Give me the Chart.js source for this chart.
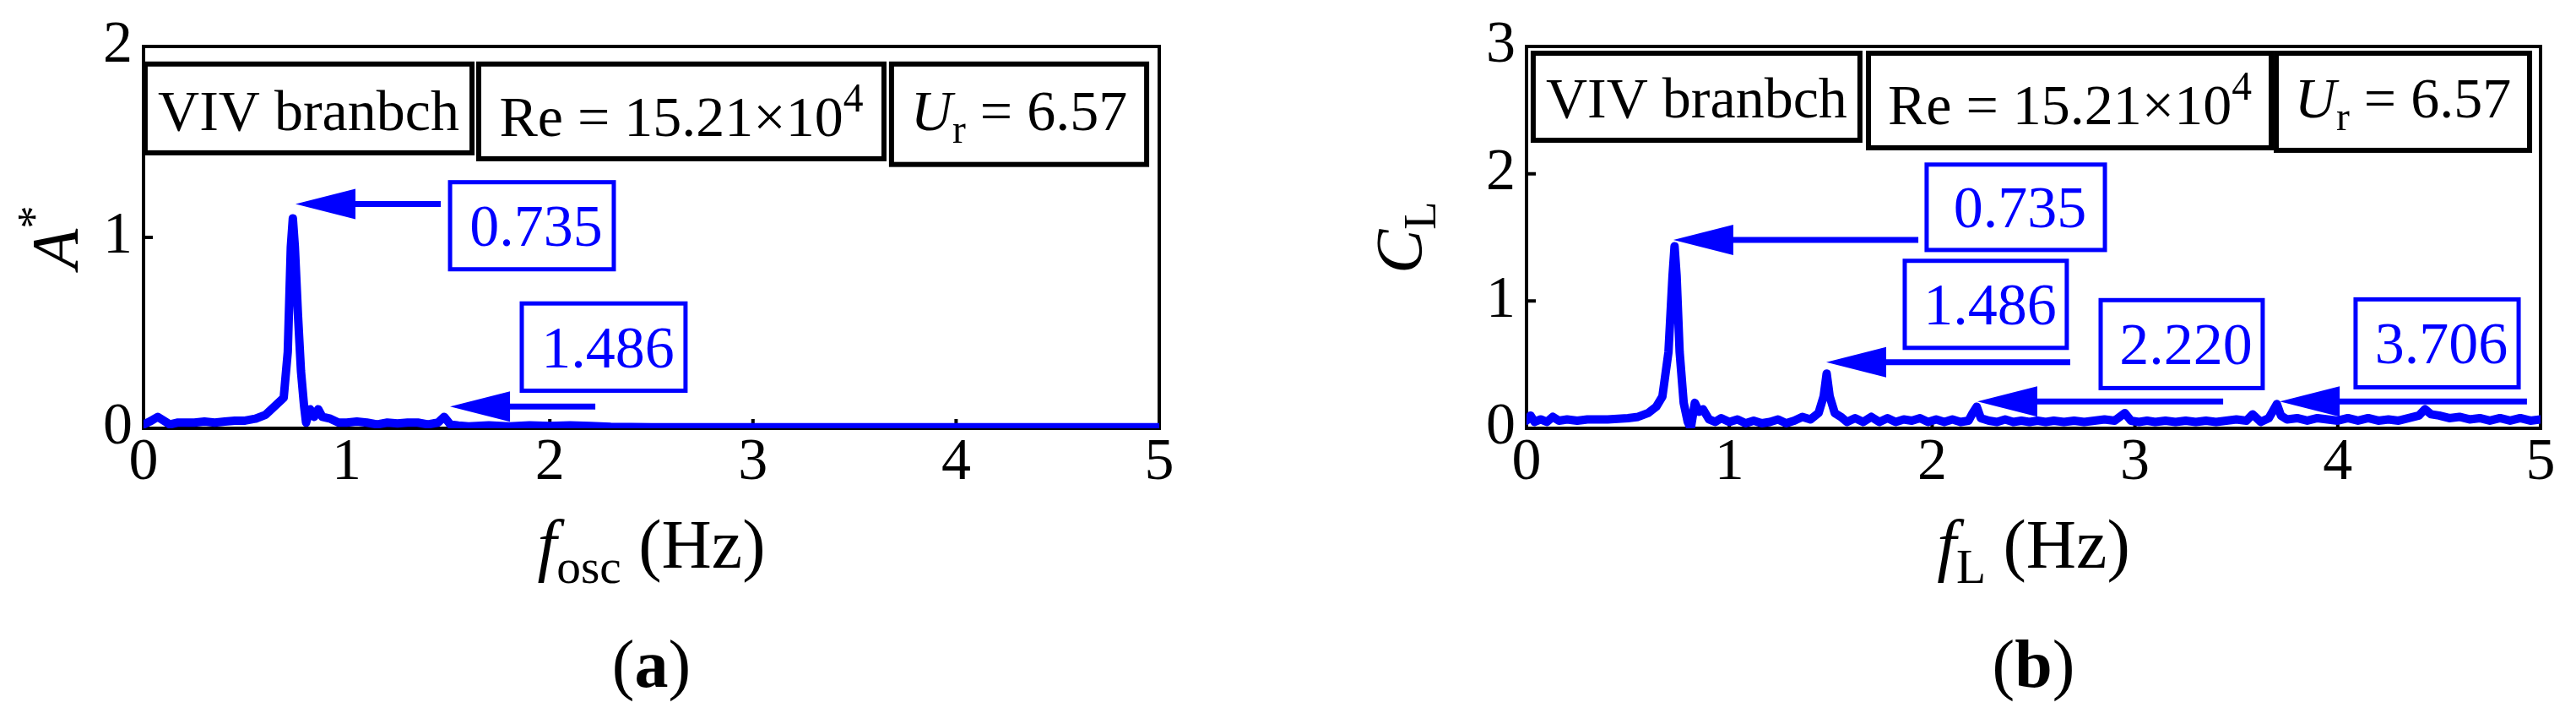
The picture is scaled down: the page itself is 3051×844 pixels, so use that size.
<!DOCTYPE html>
<html>
<head>
<meta charset="utf-8">
<title>VIV branch spectra</title>
<script src="https://cdn.jsdelivr.net/npm/chart.js@4.4.1/dist/chart.umd.min.js"></script>
<style>
    html, body { margin: 0; padding: 0; background: #fff; }
    body { width: 3051px; height: 844px; position: relative; overflow: hidden; }
    canvas { position: absolute; top: 0; }
    #chartA { left: 0; }
    #chartB { left: 1500px; }
</style>
</head>
<body>
<canvas id="chartA" width="1500" height="844"></canvas>
<canvas id="chartB" width="1551" height="844"></canvas>
<script>
// ---- данные ----

// (a) спектр амплитуды A*
const freqA = [0.00, 0.03, 0.07, 0.10, 0.13, 0.17, 0.20, 0.25, 0.30, 0.35,
    0.40, 0.45, 0.50, 0.55, 0.60, 0.63, 0.66, 0.69, 0.71, 0.725,
    0.735, 0.745, 0.76, 0.775, 0.79, 0.80, 0.82, 0.84, 0.86, 0.88,
    0.92, 0.96, 1.00, 1.05, 1.10, 1.15, 1.20, 1.25, 1.30, 1.35,
    1.40, 1.45, 1.48, 1.51, 1.55, 1.60, 1.70, 1.80, 1.90, 2.00,
    2.10, 2.20, 2.30, 2.50, 3.00, 3.50, 4.00, 4.50, 5.00];
const ampA = [0.02, 0.035, 0.06, 0.04, 0.02, 0.03, 0.03, 0.03, 0.035, 0.03,
    0.035, 0.04, 0.04, 0.05, 0.07, 0.10, 0.13, 0.16, 0.40, 0.95,
    1.10, 0.95, 0.60, 0.30, 0.12, 0.03, 0.10, 0.06, 0.10, 0.06,
    0.05, 0.03, 0.03, 0.035, 0.03, 0.02, 0.03, 0.025, 0.03, 0.03,
    0.02, 0.03, 0.06, 0.02, 0.015, 0.01, 0.015, 0.01, 0.015, 0.012,
    0.015, 0.012, 0.008, 0.005, 0.005, 0.005, 0.005, 0.005, 0.005];

// (b) спектр коэффициента подъёмной силы C_L
const freqB = [0.00, 0.02, 0.04, 0.07, 0.10, 0.13, 0.16, 0.20, 0.25, 0.30,
    0.35, 0.40, 0.45, 0.50, 0.55, 0.60, 0.64, 0.67, 0.70, 0.72,
    0.73, 0.74, 0.755, 0.775, 0.795, 0.81, 0.83, 0.85, 0.87, 0.90,
    0.93, 0.96, 1.00, 1.04, 1.08, 1.12, 1.16, 1.20, 1.24, 1.28,
    1.32, 1.36, 1.40, 1.44, 1.465, 1.48, 1.495, 1.52, 1.55, 1.58,
    1.62, 1.66, 1.70, 1.74, 1.78, 1.82, 1.86, 1.90, 1.94, 1.98,
    2.02, 2.06, 2.10, 2.14, 2.18, 2.20, 2.22, 2.24, 2.28, 2.32,
    2.36, 2.40, 2.44, 2.48, 2.52, 2.56, 2.60, 2.65, 2.70, 2.75,
    2.80, 2.85, 2.90, 2.95, 2.98, 3.02, 3.06, 3.10, 3.15, 3.20,
    3.25, 3.30, 3.35, 3.40, 3.45, 3.50, 3.55, 3.58, 3.62, 3.66,
    3.70, 3.72, 3.75, 3.80, 3.85, 3.90, 3.95, 4.00, 4.05, 4.10,
    4.15, 4.20, 4.25, 4.30, 4.35, 4.40, 4.43, 4.46, 4.50, 4.55,
    4.60, 4.65, 4.70, 4.75, 4.80, 4.85, 4.90, 4.95, 5.00];
const clB = [0.06, 0.10, 0.05, 0.07, 0.05, 0.09, 0.06, 0.07, 0.06, 0.07,
    0.07, 0.07, 0.075, 0.08, 0.09, 0.12, 0.17, 0.25, 0.60, 1.20,
    1.43, 1.20, 0.60, 0.20, 0.05, 0.00, 0.20, 0.13, 0.15, 0.07,
    0.05, 0.08, 0.05, 0.07, 0.04, 0.06, 0.04, 0.05, 0.07, 0.04,
    0.06, 0.09, 0.07, 0.12, 0.25, 0.43, 0.25, 0.12, 0.09, 0.05,
    0.08, 0.05, 0.09, 0.05, 0.08, 0.05, 0.07, 0.06, 0.08, 0.05,
    0.07, 0.05, 0.07, 0.05, 0.06, 0.12, 0.17, 0.08, 0.06, 0.05,
    0.07, 0.05, 0.06, 0.05, 0.06, 0.05, 0.06, 0.05, 0.06, 0.05,
    0.06, 0.07, 0.06, 0.12, 0.06, 0.05, 0.06, 0.05, 0.06, 0.05,
    0.06, 0.05, 0.06, 0.05, 0.06, 0.07, 0.06, 0.11, 0.05, 0.08,
    0.19, 0.10, 0.07, 0.08, 0.06, 0.08, 0.07, 0.06, 0.08, 0.06,
    0.08, 0.06, 0.07, 0.06, 0.08, 0.10, 0.15, 0.11, 0.10, 0.08,
    0.09, 0.07, 0.08, 0.06, 0.08, 0.06, 0.08, 0.06, 0.07];

// оси
const xRange = [0, 5];
const yRangeA = [0, 2];
const yRangeB = [0, 3];
const tickStep = 1;

// подписи пиков
const peakLabelsA = ['0.735', '1.486'];
const peakLabelsB = ['0.735', '1.486', '2.220', '3.706'];

// ---- оформление ----
const SERIF = '"Liberation Serif", "Times New Roman", serif';
const BLUE = '#0000ff';

const txtVIV = [{ t: 'VIV branbch' }];
const txtRe = [{ t: 'Re = 15.21×10' }, { t: '4', sup: true }];
const txtUr = [{ t: 'U', it: true }, { t: 'r', sub: true }, { t: ' = 6.57' }];

// положение рамок в координатах данных
const layoutA = {
    info: [
        { runs: txtVIV, x0: 0.008, x1: 1.617, y0: 1.908, y1: 1.443, base: 78 },
        { runs: txtRe, x0: 1.650, x1: 3.645, y0: 1.908, y1: 1.412, base: 85 },
        { runs: txtUr, x0: 3.682, x1: 4.938, y0: 1.908, y1: 1.382, base: 78 },
    ],
    peaks: [
        { box: [1.509, 2.315, 1.289, 0.833], tip: [0.748, 1.175], tail: 1.463 },
        { box: [1.862, 2.668, 0.654, 0.197], tip: [1.509, 0.114], tail: 2.224 },
    ],
    yTitle: { runs: [{ t: 'A', it: true }, { t: '*', sup: true }], x: 91 },
    xTitle: [{ t: 'f', it: true }, { t: 'osc', sub: true }, { t: ' (Hz)' }],
    panel: [{ t: '(' }, { t: 'a', b: true }, { t: ')' }],
};

const layoutB = {
    info: [
        { runs: txtVIV, x0: 0.033, x1: 1.644, y0: 2.947, y1: 2.263, base: 76 },
        { runs: txtRe, x0: 1.686, x1: 3.672, y0: 2.947, y1: 2.204, base: 84 },
        { runs: txtUr, x0: 3.697, x1: 4.946, y0: 2.947, y1: 2.184, base: 76 },
    ],
    peaks: [
        { box: [1.973, 2.852, 2.072, 1.401], tip: [0.724, 1.480], tail: 1.932 },
        { box: [1.865, 2.664, 1.316, 0.632], tip: [1.478, 0.520], tail: 2.681 },
        { box: [2.831, 3.630, 1.007, 0.316], tip: [2.223, 0.211], tail: 3.435 },
        { box: [4.088, 4.892, 1.013, 0.322], tip: [3.714, 0.211], tail: 4.933 },
    ],
    yTitle: { runs: [{ t: 'C', it: true }, { t: 'L', sub: true }], x: 183 },
    xTitle: [{ t: 'f', it: true }, { t: 'L', sub: true }, { t: ' (Hz)' }],
    panel: [{ t: '(' }, { t: 'b', b: true }, { t: ')' }],
};

function font(size, it, b) {
    return (it ? 'italic ' : '') + (b ? 'bold ' : '') + size + 'px ' + SERIF;
}

// текст с курсивом, индексами и степенями
function drawRich(ctx, runs, x, y, size, align) {
    const sizes = runs.map(r => (r.sub || r.sup) ? size * 0.7 : size);
    let w = 0;
    runs.forEach((r, i) => {
        ctx.font = font(sizes[i], r.it, r.b);
        w += ctx.measureText(r.t).width;
    });
    let cx = align === 'center' ? x - w / 2 : x;
    ctx.textAlign = 'left';
    ctx.textBaseline = 'alphabetic';
    runs.forEach((r, i) => {
        const dy = r.sub ? size * 0.22 : (r.sup ? -size * 0.42 : 0);
        ctx.font = font(sizes[i], r.it, r.b);
        ctx.fillText(r.t, cx, y + dy);
        cx += ctx.measureText(r.t).width;
    });
}

const decorPlugin = {
    id: 'decor',
    beforeDatasetsDraw(chart) {
        const { ctx, chartArea: a, scales: { x, y } } = chart;
        ctx.save();
        ctx.strokeStyle = '#000';
        ctx.lineWidth = 4;
        // риски внутрь
        ctx.beginPath();
        x.ticks.forEach(t => {
            if (t.value <= x.min || t.value >= x.max) return;
            const px = x.getPixelForValue(t.value);
            ctx.moveTo(px, a.bottom);
            ctx.lineTo(px, a.bottom - 11);
        });
        y.ticks.forEach(t => {
            if (t.value <= y.min || t.value >= y.max) return;
            const py = y.getPixelForValue(t.value);
            ctx.moveTo(a.left, py);
            ctx.lineTo(a.left + 11, py);
        });
        ctx.stroke();
        ctx.strokeRect(a.left, a.top, a.right - a.left, a.bottom - a.top);
        ctx.restore();
    },
    afterDatasetsDraw(chart, args, opts) {
        const { ctx, scales: { x, y } } = chart;
        const lay = opts.layout;
        ctx.save();
        lay.info.forEach(b => {
            const l = x.getPixelForValue(b.x0), r = x.getPixelForValue(b.x1);
            const t = y.getPixelForValue(b.y0), btm = y.getPixelForValue(b.y1);
            ctx.strokeStyle = '#000';
            ctx.lineWidth = 6;
            ctx.strokeRect(l, t, r - l, btm - t);
            ctx.fillStyle = '#000';
            drawRich(ctx, b.runs, (l + r) / 2, t + b.base, 68, 'center');
        });
        lay.peaks.forEach((p, i) => {
            const tipX = x.getPixelForValue(p.tip[0]);
            const py = y.getPixelForValue(p.tip[1]);
            const tailX = x.getPixelForValue(p.tail);
            const baseX = tipX + 71;
            ctx.strokeStyle = BLUE;
            ctx.fillStyle = BLUE;
            ctx.lineWidth = 7;
            ctx.beginPath();
            ctx.moveTo(baseX - 2, py);
            ctx.lineTo(tailX, py);
            ctx.stroke();
            ctx.beginPath();
            ctx.moveTo(tipX, py);
            ctx.lineTo(baseX, py - 18);
            ctx.lineTo(baseX, py + 18);
            ctx.closePath();
            ctx.fill();
            // рамка с частотой
            const l = x.getPixelForValue(p.box[0]), r = x.getPixelForValue(p.box[1]);
            const t = y.getPixelForValue(p.box[2]), btm = y.getPixelForValue(p.box[3]);
            ctx.lineWidth = 5;
            ctx.strokeRect(l, t, r - l, btm - t);
            drawRich(ctx, [{ t: opts.labels[i] }], (l + r) / 2 + 5, (t + btm) / 2 + 24, 70, 'center');
        });
        ctx.restore();
    },
    afterDraw(chart, args, opts) {
        const { ctx, chartArea: a } = chart;
        const lay = opts.layout;
        const cx = (a.left + a.right) / 2;
        ctx.save();
        ctx.fillStyle = '#000';
        // подпись оси Y (повёрнутая)
        ctx.save();
        ctx.translate(lay.yTitle.x, (a.top + a.bottom) / 2);
        ctx.rotate(-Math.PI / 2);
        drawRich(ctx, lay.yTitle.runs, 0, 0, 78, 'center');
        ctx.restore();
        // подпись оси X
        drawRich(ctx, lay.xTitle, cx, 672, 82, 'center');
        // метка панели
        drawRich(ctx, lay.panel, cx, 813, 80, 'center');
        ctx.restore();
    },
};

function makeChart(canvasId, freqs, values, yRange, layout, labels, padding) {
    const points = freqs.map((f, i) => ({ x: f, y: values[i] }));
    const tickFont = { family: SERIF, size: 70 };
    return new Chart(document.getElementById(canvasId), {
        type: 'line',
        data: {
            datasets: [{
                data: points,
                borderColor: BLUE,
                borderWidth: 10,
                pointRadius: 0,
                tension: 0,
                borderJoinStyle: 'round',
                borderCapStyle: 'round',
            }],
        },
        options: {
            responsive: false,
            animation: false,
            events: [],
            layout: { padding: padding },
            plugins: {
                legend: { display: false },
                tooltip: { enabled: false },
                decor: { layout: layout, labels: labels },
            },
            scales: {
                x: {
                    type: 'linear',
                    min: xRange[0],
                    max: xRange[1],
                    grid: { display: false, drawTicks: false },
                    border: { display: false },
                    ticks: { stepSize: tickStep, padding: 0, color: '#000', font: tickFont, maxRotation: 0, autoSkip: false },
                    afterFit: (s) => { s.height = 150; },
                },
                y: {
                    type: 'linear',
                    min: yRange[0],
                    max: yRange[1],
                    grid: { display: false, drawTicks: false },
                    border: { display: false },
                    ticks: { stepSize: tickStep, padding: 13, color: '#000', font: tickFont },
                    afterFit: (s) => { s.width = 150; },
                },
            },
        },
        plugins: [decorPlugin],
    });
}

// отступы: область графика (a) x 170..1373, (b) x 1808..3009, y 51..507
makeChart('chartA', freqA, ampA, yRangeA, layoutA, peakLabelsA,
    { left: 20, right: 127, top: 51, bottom: 187 });
makeChart('chartB', freqB, clB, yRangeB, layoutB, peakLabelsB,
    { left: 158, right: 42, top: 51, bottom: 187 });
</script>
</body>
</html>
